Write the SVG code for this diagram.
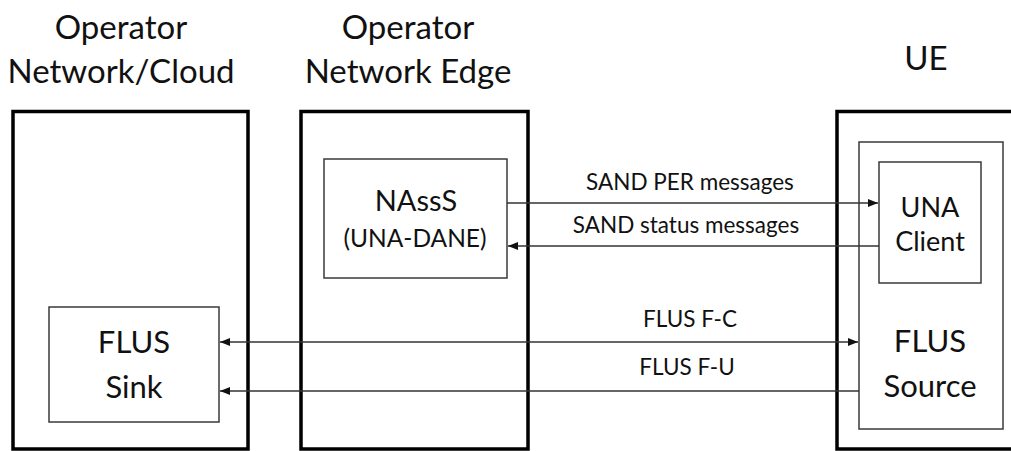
<svg xmlns="http://www.w3.org/2000/svg" width="1011" height="451" viewBox="0 0 1011 451">
  <style>
    text { font-family: Lato, "Open Sans", sans-serif; fill: #111; text-anchor: middle; }
    .hdr { font-size: 33px; }
    .box { font-size: 31px; }
    .mid { font-size: 29px; }
    .small { font-size: 27px; }
    .sub { font-size: 24.5px; }
    .lbl { font-size: 22.5px; }
    .domain { fill: #fff; stroke: #000; stroke-width: 3.5; }
    .node { fill: #fff; stroke: #3a3a3a; stroke-width: 1.5; }
    .link { fill: none; stroke: #333; stroke-width: 1.5; }
  </style>
  <defs>
    <marker id="arrowEnd" viewBox="0 0 10 8" refX="10" refY="4" markerWidth="10" markerHeight="8" markerUnits="userSpaceOnUse" orient="auto">
      <path d="M0,0 L10,4 L0,8 Z" fill="#111"/>
    </marker>
    <marker id="arrowStart" viewBox="0 0 10 8" refX="0" refY="4" markerWidth="10" markerHeight="8" markerUnits="userSpaceOnUse" orient="auto">
      <path d="M10,0 L0,4 L10,8 Z" fill="#111"/>
    </marker>
  </defs>

  <!-- domain headers -->
  <g id="headers">
    <text class="hdr" x="121" y="39">Operator</text>
    <text class="hdr" x="121" y="83">Network/Cloud</text>
    <text class="hdr" x="408" y="39">Operator</text>
    <text class="hdr" x="408" y="83">Network Edge</text>
    <text class="hdr" x="926" y="70">UE</text>
  </g>

  <!-- domains -->
  <g id="cloud">
    <rect class="domain" x="13" y="111.5" width="235" height="337.5"/>
  </g>
  <g id="edge">
    <rect class="domain" x="301" y="111.5" width="227" height="337.5"/>
  </g>
  <g id="ue">
    <rect class="domain" x="837" y="111.5" width="190" height="337.5"/>
  </g>

  <!-- functional entities -->
  <g id="flus-sink">
    <rect class="node" x="49" y="307" width="170" height="115"/>
    <text class="box" x="134" y="353">FLUS</text>
    <text class="box" x="134" y="398">Sink</text>
  </g>
  <g id="nasss">
    <rect class="node" x="324" y="159" width="183" height="119"/>
    <text class="mid" x="416" y="211">NAssS</text>
    <text class="sub" x="415" y="247">(UNA-DANE)</text>
  </g>
  <g id="flus-source">
    <rect class="node" x="859" y="142" width="144" height="287"/>
    <text class="box" x="930" y="352">FLUS</text>
    <text class="box" x="930" y="397">Source</text>
  </g>
  <g id="una-client">
    <rect class="node" x="879" y="162" width="102" height="121"/>
    <text class="small" x="930" y="217">UNA</text>
    <text class="small" x="930" y="251">Client</text>
  </g>

  <!-- interfaces -->
  <g id="connectors">
    <line class="link" x1="507" y1="203" x2="878" y2="203" marker-end="url(#arrowEnd)"/>
    <line class="link" x1="879" y1="246" x2="508" y2="246" marker-end="url(#arrowEnd)"/>
    <line class="link" x1="220" y1="342" x2="858" y2="342" marker-start="url(#arrowStart)" marker-end="url(#arrowEnd)"/>
    <line class="link" x1="859" y1="391" x2="220" y2="391" marker-end="url(#arrowEnd)"/>
    <text class="lbl" x="690" y="190">SAND PER messages</text>
    <text class="lbl" x="686" y="233">SAND status messages</text>
    <text class="lbl" x="690" y="327">FLUS F-C</text>
    <text class="lbl" x="687" y="375">FLUS F-U</text>
  </g>
</svg>
